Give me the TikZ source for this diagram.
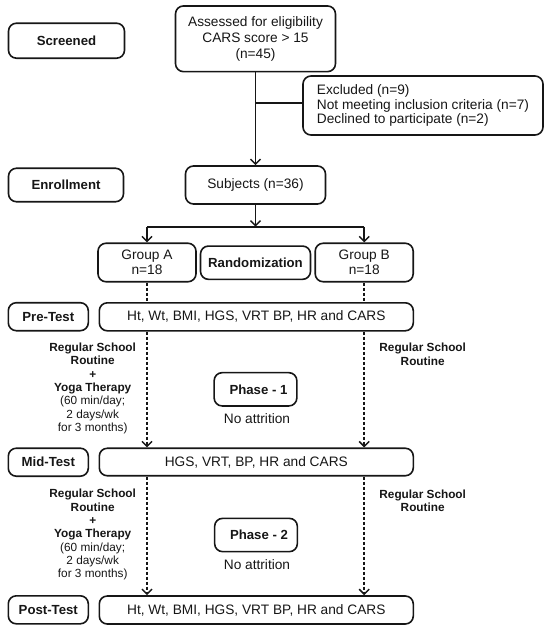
\documentclass[tikz,border=0pt]{standalone}
\usepackage{fontspec}
\setmainfont{Liberation Sans}
\usetikzlibrary{arrows.meta}
\definecolor{ink}{HTML}{161616}
\begin{document}
\begin{tikzpicture}[x=1pt,y=-1pt,
  box/.style={draw=ink, text=ink, line width=1.6pt, rounded corners=8pt, inner sep=0pt, align=center, font=\fontsize{13.7}{15}\selectfont},
  lbl/.style={box, font=\fontsize{13.2}{15}\selectfont\bfseries},
  note/.style={inner sep=0pt, text=ink, align=center, font=\fontsize{11.8}{13.33}\selectfont},
  plain/.style={inner sep=0pt, text=ink, align=center, font=\fontsize{13.7}{15}\selectfont},
  conn/.style={draw=ink, line width=1.6pt},
  arr/.style={conn, -{Straight Barb[length=5pt,width=10pt,line width=1.5pt]}},
  dashline/.style={draw=ink, line width=1.5pt, dash pattern=on 3pt off 2pt},
  dasharr/.style={dashline, -{Straight Barb[length=5pt,width=10pt,line width=1.5pt]}},
]
\useasboundingbox (0,0) rectangle (550,632);

% left labels
\node[lbl, minimum width=116pt, minimum height=35pt] (scr) at (66.5,40.7) {Screened};
\node[lbl, minimum width=115pt, minimum height=33.5pt] (enr) at (66,185) {Enrollment};
\node[lbl, minimum width=80pt, minimum height=28pt] (prel) at (48.3,316.7) {Pre-Test};
\node[lbl, minimum width=80pt, minimum height=28pt] (midl) at (48.3,462.2) {Mid-Test};
\node[lbl, minimum width=80pt, minimum height=28pt] (postl) at (48.3,609.8) {Post-Test};

% top part
\node[box, font=\fontsize{13.7}{16.3}\selectfont, minimum width=160pt, minimum height=65.7pt] (ass) at (255.5,38.8)
  {Assessed for eligibility\\CARS score > 15\\(n=45)};
\node[box, align=left, font=\fontsize{13.7}{14.5}\selectfont, minimum width=240pt, minimum height=59pt] (exc) at (423,105.5)
  {Excluded (n=9)\\Not meeting inclusion criteria (n=7)\\Declined to participate (n=2)};
\node[box, minimum width=140pt, minimum height=38pt] (sub) at (255.5,185) {Subjects (n=36)};

\node[box, minimum width=98pt, minimum height=38.5pt] (ga) at (147,262.5) {Group A\\n=18};
\node[lbl, minimum width=110pt, minimum height=33.3pt] (rnd) at (255.5,262.7) {Randomization};
\node[box, minimum width=98pt, minimum height=38.5pt] (gb) at (364.2,262.5) {Group B\\n=18};

% test boxes
\node[box, minimum width=314pt, minimum height=28pt] (pre) at (256.3,316.8) {Ht, Wt, BMI, HGS, VRT BP, HR and CARS};
\node[box, minimum width=314pt, minimum height=27.5pt] (mid) at (256.3,462) {HGS, VRT, BP, HR and CARS};
\node[box, minimum width=314pt, minimum height=28pt] (post) at (256.3,610) {Ht, Wt, BMI, HGS, VRT BP, HR and CARS};

% phases
\node[lbl, minimum width=82.7pt, minimum height=33.3pt] (ph1) at (255.5,389.3) {\hspace*{6pt}Phase - 1};
\node[plain] (na1) at (257,419) {No attrition};
\node[lbl, minimum width=82.7pt, minimum height=33.3pt] (ph2) at (256,535) {\hspace*{6pt}Phase - 2};
\node[plain] (na2) at (257,565) {No attrition};

% annotations
\node[note] (la1) at (92.7,388.3) {\textbf{Regular School}\\\textbf{Routine}\\\textbf{+}\\\textbf{Yoga Therapy}\\(60 min/day;\\2 days/wk\\for 3 months)};
\node[note] (ra1) at (422.7,354.2) {\textbf{Regular School}\\\textbf{Routine}};
\node[note] (la2) at (92.7,534.7) {\textbf{Regular School}\\\textbf{Routine}\\\textbf{+}\\\textbf{Yoga Therapy}\\(60 min/day;\\2 days/wk\\for 3 months)};
\node[note] (ra2) at (422.7,500.7) {\textbf{Regular School}\\\textbf{Routine}};

% connectors
\draw[arr] (ass.south) -- (sub.north);
\coordinate (br) at (255.5,103);
\draw[conn] (br) -- (br -| exc.west);
\coordinate (split) at (255.5,226.7);
\draw[arr] (sub.south) -- (split);
\draw[conn] (split -| ga.north) -- (split -| gb.north);
\draw[arr] (split -| ga.north) -- (ga.north);
\draw[arr] (split -| gb.north) -- (gb.north);

\draw[dashline] (ga.south) -- (ga.south |- pre.north);
\draw[dashline] (gb.south) -- (gb.south |- pre.north);
\draw[dasharr] (ga.south |- pre.south) -- (ga.south |- mid.north);
\draw[dasharr] (gb.south |- pre.south) -- (gb.south |- mid.north);
\draw[dasharr] (ga.south |- mid.south) -- (ga.south |- post.north);
\draw[dasharr] (gb.south |- mid.south) -- (gb.south |- post.north);
\end{tikzpicture}
\end{document}
